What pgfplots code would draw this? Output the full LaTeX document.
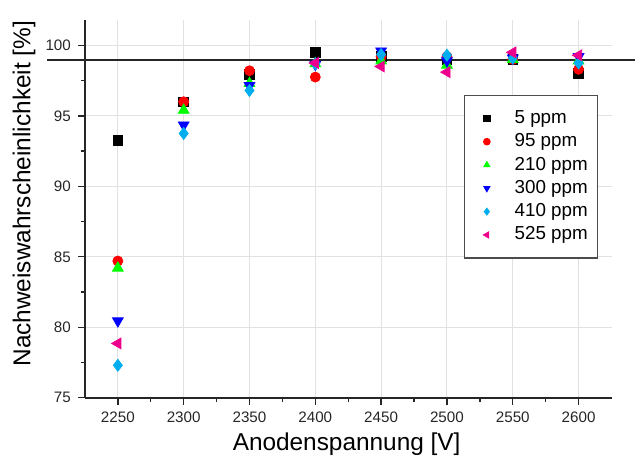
\documentclass[border=0pt]{standalone}
\usepackage{fontspec}
\setmainfont{Liberation Sans}
\usepackage{pgfplots}
\pgfplotsset{compat=1.18}

\definecolor{gridgray}{HTML}{E2E2E2}
\pgfplotsset{
    myleg/.style={legend image code/.code={%
        \path (-8pt,0pt) (4.6pt,0pt);
        \draw[##1, mark size=1.6pt] plot coordinates {(0pt,0pt)};}},
}

\begin{document}
\begin{tikzpicture}
\begin{axis}[
    scale only axis,
    width=263.5pt, height=189pt,
    xmin=2225, xmax=2625,
    ymin=75, ymax=101.8,
    axis lines*=left,
    axis line style={line width=0.8pt, black!85},
    xtick={2250,2300,...,2600},
    ytick={75,80,...,100},
    minor x tick num=1, minor y tick num=1,
    tick align=outside,
    major tick length=3.5pt, minor tick length=2pt,
    tick style={line width=0.7pt, black!85},
    grid=major,
    major grid style={gridgray, line width=0.5pt},
    /pgf/number format/assume math mode=true,
    /pgf/number format/set thousands separator={},
    ticklabel style={font=\fontsize{7.6}{9}\selectfont, black!85},
    xlabel={Anodenspannung [V]},
    ylabel={Nachweiswahrscheinlichkeit [\%]},
    label style={font=\fontsize{12.2}{14}\selectfont},
    xlabel style={at={(axis description cs:0.497,-0.124)}, anchor=center},
    ylabel style={at={(axis description cs:-0.1157,0.54)}, anchor=center},
    clip=false,
    legend style={at={(axis description cs:0.975,0.8016)}, anchor=north east,
        draw=black!70, line width=0.6pt, font=\fontsize{9.4}{12}\selectfont,
        inner xsep=3pt, inner ysep=5.5pt, row sep=-0.4pt,
        /tikz/every odd column/.append style={column sep=7pt}},
    legend cell align=left,
]
\draw[black!85, line width=0.8pt] (axis cs:2196,98.95) -- (axis cs:2643,98.95);
\path (axis description cs:-0.1613,1.053) (axis description cs:0,-0.177);

\addplot[only marks, mark=square*, black, mark size=2.4pt, myleg] coordinates {
(2250,93.25) (2300,96.0) (2350,97.95) (2400,99.5) (2450,99.2) (2500,99.0) (2550,99.0) (2600,98.0)};
\addlegendentry{5 ppm}
\addplot[only marks, mark=*, red, mark size=2.5pt, myleg] coordinates {
(2250,84.7) (2300,96.0) (2350,98.2) (2400,97.75) (2450,99.2) (2500,99.2) (2550,99.0) (2600,98.3)};
\addlegendentry{95 ppm}
\addplot[only marks, mark=triangle*, green, mark size=3.1pt, myleg] coordinates {
(2250,84.2) (2300,95.4) (2350,97.3) (2400,98.7) (2450,98.9) (2500,98.6) (2550,99.0) (2600,98.9)};
\addlegendentry{210 ppm}
\addplot[only marks, mark=triangle*, blue, mark size=3.1pt, mark options={rotate=180}, myleg] coordinates {
(2250,80.45) (2300,94.35) (2350,97.15) (2400,98.65) (2450,99.6) (2500,98.9) (2550,99.1) (2600,99.2)};
\addlegendentry{300 ppm}
\addplot[only marks, mark=diamond*, cyan, mark size=3pt, myleg] coordinates {
(2250,77.3) (2300,93.75) (2350,96.8) (2400,98.7) (2450,99.35) (2500,99.3) (2550,99.1) (2600,98.75)};
\addlegendentry{410 ppm}
\addplot[only marks, mark=triangle*, magenta, mark size=3.1pt, mark options={rotate=90}, myleg] coordinates {
(2250,78.85) (2400,98.75) (2450,98.5) (2500,98.1) (2550,99.5) (2600,99.3)};
\addlegendentry{525 ppm}
\end{axis}
\end{tikzpicture}
\end{document}
